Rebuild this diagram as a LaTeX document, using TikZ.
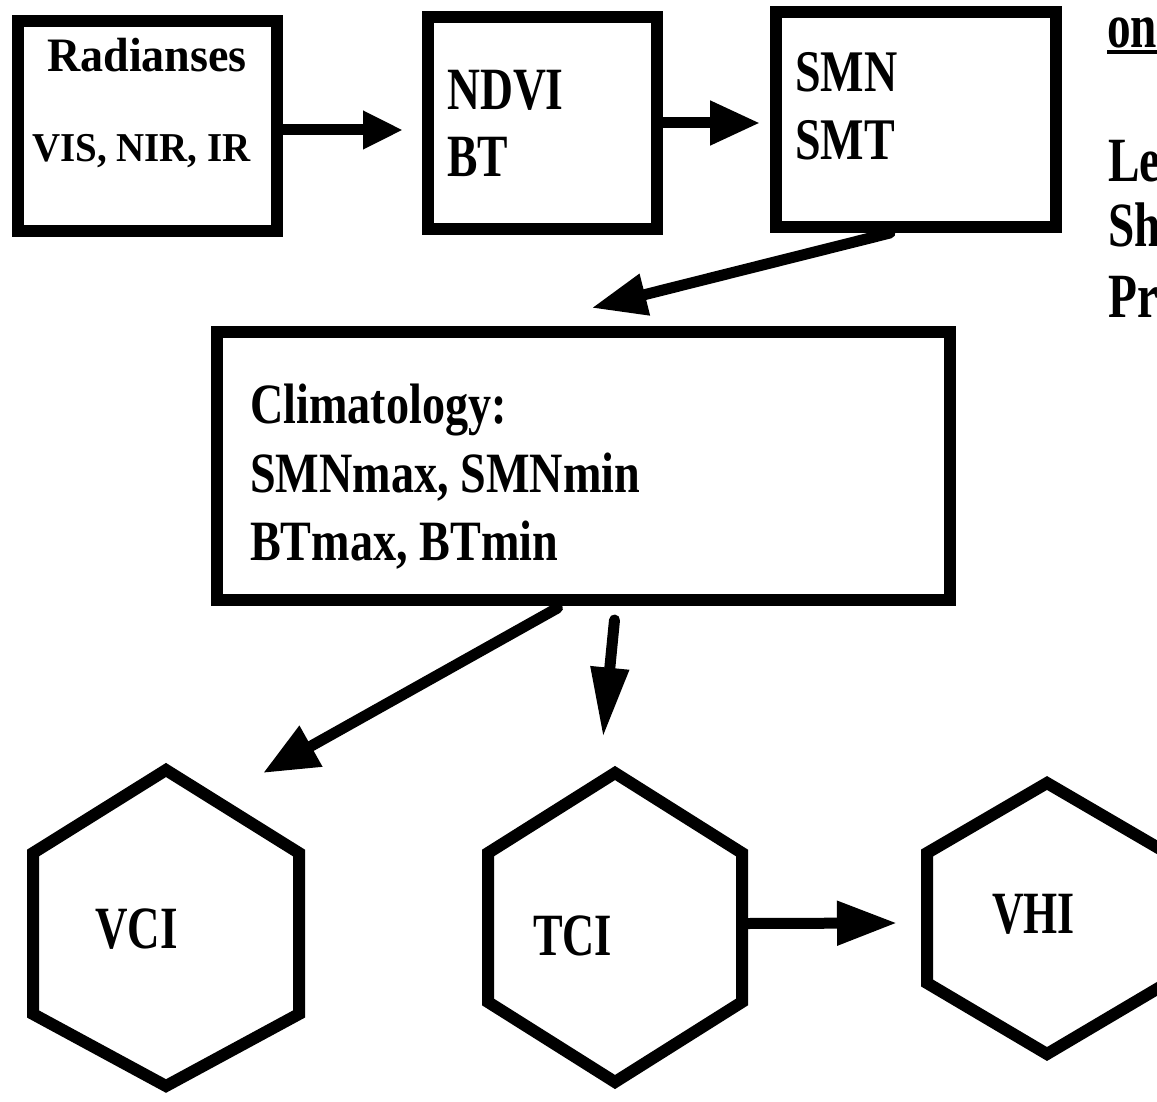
\documentclass[tikz,border=0pt]{standalone}
\usepackage{fontspec}
\setmainfont{Liberation Serif}
\usepackage{graphicx}
\usetikzlibrary{arrows.meta,calc}
\newcommand{\lbltxt}[3]{\fontsize{#1}{#1}\selectfont\scalebox{#2}[1]{#3}}
\tikzset{
  boxn/.style={draw, line width=12pt, inner sep=0pt, rectangle},
  hexline/.style={line width=12pt, line join=miter},
  hexc/.style={inner sep=0pt, minimum size=0pt},
  lbl/.style={inner sep=0pt, anchor=base west, font=\bfseries},
  arr/.style={line width=11pt, line cap=round},
}
\begin{document}
\begin{tikzpicture}[x=1pt,y=-1pt]
\useasboundingbox (0,0) rectangle (1157,1102);
\clip (0,0) rectangle (1157,1102);
\fill[white] (0,0) rectangle (1157,1102);

% boxes
\node[boxn, minimum width=259pt, minimum height=210pt] (b1) at (147.5,126) {};
\node[boxn, minimum width=229pt, minimum height=212pt] (b2) at (542.5,123) {};
\node[boxn, minimum width=280pt, minimum height=215pt] (b3) at (916,119.5) {};
\node[boxn, minimum width=733pt, minimum height=268pt] (b4) at (583.5,466) {};

% hexagon centres
\node[hexc] (vci) at (166,928) {};
\node[hexc] (tci) at (615,927.5) {};
\node[hexc] (vhi) at (1047,918.5) {};

\draw[hexline] ($(vci)+(0,-158)$) -- ($(vci)+(133,-75)$) -- ($(vci)+(133,86)$) -- ($(vci)+(0,158)$) -- ($(vci)+(-133,86)$) -- ($(vci)+(-133,-75)$) -- cycle;
\draw[hexline] ($(tci)+(0,-154.5)$) -- ($(tci)+(127,-74.5)$) -- ($(tci)+(127,74.5)$) -- ($(tci)+(0,154.5)$) -- ($(tci)+(-127,74.5)$) -- ($(tci)+(-127,-74.5)$) -- cycle;
\draw[hexline] ($(vhi)+(0,-135.5)$) -- ($(vhi)+(120,-65.5)$) -- ($(vhi)+(120,64.5)$) -- ($(vhi)+(0,135.5)$) -- ($(vhi)+(-120,64.5)$) -- ($(vhi)+(-120,-65.5)$) -- cycle;

% texts
\node[lbl] (t1a) at (47,72) {\lbltxt{48}{0.96}{Radianses}};
\node[lbl] (t1b) at (32,162) {\lbltxt{41}{0.95}{VIS, NIR, IR}};
\node[lbl] (t2a) at (447,110) {\lbltxt{60}{0.76}{NDVI}};
\node[lbl] (t2b) at (447,177) {\lbltxt{60}{0.76}{BT}};
\node[lbl] (t3a) at (795,92) {\lbltxt{59}{0.78}{SMN}};
\node[lbl] (t3b) at (795,160) {\lbltxt{59}{0.78}{SMT}};
\node[lbl] (t4a) at (250,423) {\lbltxt{57}{0.81}{Climatology:}};
\node[lbl] (t4b) at (250,492) {\lbltxt{57}{0.81}{SMNmax, SMNmin}};
\node[lbl] (t4c) at (250,560) {\lbltxt{57}{0.81}{BTmax, BTmin}};
\node[lbl] (tv) at (95,948) {\lbltxt{60}{0.75}{VCI}};
\node[lbl] (tt) at (533,955) {\lbltxt{60}{0.74}{TCI}};
\node[lbl] (th) at (992,933) {\lbltxt{60}{0.73}{VHI}};

\node[lbl] (on) at (1107,48) {\lbltxt{63}{0.75}{on}};
\draw[line width=4pt] ($(on.base west)+(0,4)$) -- ($(on.base east)+(0,4)$);
\node[lbl] (le) at (1108,182) {\lbltxt{63}{0.75}{Le}};
\node[lbl] (sh) at (1108,247) {\lbltxt{63}{0.75}{Sh}};
\node[lbl] (pr) at (1108,317) {\lbltxt{63}{0.75}{Pr}};

% arrows
\draw[arr, -{Triangle[length=40pt,width=36pt]}] ($(b1.east)+(0,4)$) -- ($(b1.east -| b2.west)+(-19,4)$);
\draw[arr, -{Triangle[length=50pt,width=42pt]}] (b2.east) -- ($(b2.east -| b3.west)+(-10,0)$);
\draw[arr, -{Triangle[length=55pt,width=40pt]}] ($(b3.south)+(-26,0)$) -- ($(b4.north)+(8,-18)$);
\draw[arr, -{Triangle[length=55pt,width=44pt]}] ($(b4.south)+(-26,2)$) -- ($(vci)+(97,-155)$);
\draw[arr, -{Triangle[length=70pt,width=36pt]}] ($(b4.south)+(31,14)$) -- ($(tci)+(-12,-190)$);
\draw[arr, -{Triangle[length=60pt,width=42pt]}] ($(tci)+(133,-4)$) -- ($(vhi)+(-150,4.5)$);
\end{tikzpicture}
\end{document}
